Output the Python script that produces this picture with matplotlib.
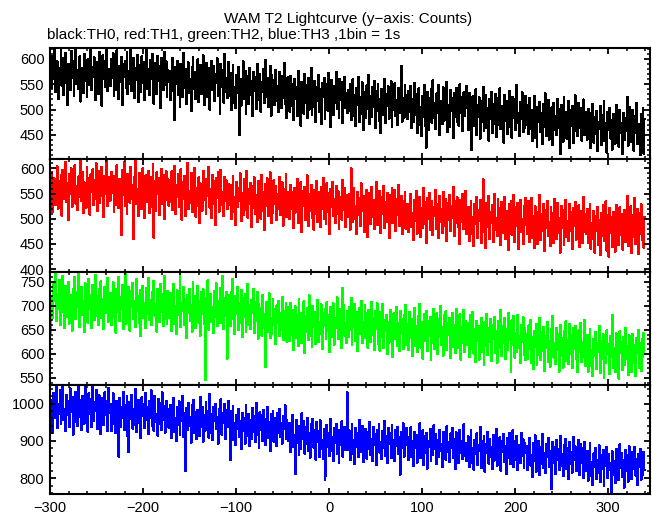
import numpy as np
import matplotlib
matplotlib.use("Agg")
import matplotlib.pyplot as plt
from matplotlib.ticker import MultipleLocator, FixedLocator

plt.rcParams['font.family'] = ['Liberation Sans', 'DejaVu Sans']

title = "WAM T2 Lightcurve (y\u2212axis: Counts)"
subtitle = "black:TH0, red:TH1, green:TH2, blue:TH3 ,1bin = 1s"
t_start = -300  # seconds, 1 s bins
x_ticks = [-300, -200, -100, 0, 100, 200, 300]

th0 = [
580, 543, 606, 560, 619, 535, 572, 595, 521, 583, 556, 628, 547, 601, 529, 576, 612, 553, 510, 590, 571, 538, 616, 562, 587, 527, 597, 623, 550, 578, 541, 605, 516, 582, 569, 533, 610, 591, 557, 524, 599, 574, 548, 625, 539, 585, 564, 603, 519, 594, 577, 531, 614, 554, 588, 508, 607, 561, 596, 545, 618, 536, 581, 566,
546, 599, 562, 611, 527, 580, 538, 617, 573, 521, 586, 555, 604, 509, 591, 564, 596, 542, 613, 530, 577, 550, 623, 536, 570, 601, 523, 583, 558, 608, 515, 589, 567, 534, 605, 552, 594, 519, 574, 619, 541, 581, 528, 598, 560, 610, 545, 512, 592, 576, 531, 606, 556, 587, 503, 602, 569, 539, 614, 549, 595, 524, 579, 554,
577, 519, 564, 602, 537, 480, 585, 551, 596, 528, 570, 506, 591, 557, 524, 612, 543, 580, 512, 566, 593, 533, 561, 497, 584, 603, 540, 574, 521, 549, 599, 515, 568, 588, 530, 558, 607, 509, 575, 546, 592, 525, 582, 500, 563, 596, 538, 586, 517, 571, 553, 601, 527, 567, 492, 590, 544, 579, 514, 610, 535, 562, 522, 594,
526, 573, 499, 558, 589, 514, 545, 503, 568, 532, 584, 450, 561, 508, 552, 595, 521, 577, 492, 543, 566, 511, 582, 529, 557, 487, 575, 537, 564, 501, 590, 519, 549, 571, 496, 554, 534, 580, 513, 598, 524, 562, 505, 541, 586, 488, 569, 530, 559, 509, 578, 517, 547, 495, 574, 553, 503, 567, 522, 592, 512, 546, 483, 564,
533, 496, 566, 508, 551, 479, 560, 520, 544, 487, 577, 503, 536, 468, 555, 527, 492, 570, 513, 548, 484, 562, 500, 539, 583, 489, 531, 506, 557, 476, 545, 517, 568, 495, 541, 471, 553, 524, 563, 481, 535, 550, 498, 572, 510, 465, 558, 529, 490, 546, 514, 575, 501, 538, 483, 561, 519, 554, 474, 543, 565, 504, 532, 493,
539, 497, 551, 479, 518, 560, 488, 529, 467, 543, 509, 565, 475, 524, 492, 554, 460, 534, 513, 483, 548, 502, 569, 471, 527, 486, 545, 505, 557, 464, 536, 498, 550, 478, 521, 454, 541, 515, 490, 561, 473, 530, 507, 546, 482, 525, 556, 465, 533, 500, 552, 487, 519, 469, 542, 494, 532, 587, 476, 523, 484, 549, 503, 528,
481, 537, 496, 546, 464, 520, 475, 553, 489, 531, 453, 511, 542, 470, 505, 447, 527, 486, 549, 467, 425, 535, 459, 523, 500, 540, 474, 558, 483, 513, 462, 532, 493, 548, 450, 518, 507, 471, 544, 478, 528, 491, 555, 456, 510, 465, 538, 498, 522, 444, 533, 485, 543, 476, 514, 468, 550, 494, 525, 458, 534, 488, 506, 547,
504, 460, 533, 479, 516, 420, 526, 467, 498, 540, 450, 509, 485, 524, 443, 518, 475, 545, 457, 492, 529, 464, 503, 439, 521, 482, 535, 454, 512, 472, 531, 446, 496, 523, 469, 542, 461, 507, 488, 435, 528, 478, 517, 451, 500, 537, 466, 510, 445, 525, 484, 520, 459, 548, 473, 494, 448, 515, 481, 534, 455, 505, 463, 527,
469, 510, 451, 523, 462, 499, 438, 490, 527, 445, 483, 426, 506, 475, 516, 456, 493, 432, 511, 466, 532, 448, 486, 519, 441, 497, 472, 505, 430, 514, 460, 488, 449, 521, 464, 502, 412, 509, 476, 437, 525, 453, 495, 443, 484, 517, 425, 500, 468, 508, 434, 491, 528, 458, 481, 447, 513, 463, 504, 439, 487, 520, 450, 496,
481, 441, 502, 456, 493, 424, 470, 512, 435, 485, 451, 498, 418, 476, 462, 507, 430, 489, 446, 517, 438, 473, 415, 496, 459, 504, 443, 479, 421, 491, 466, 433, 510, 449, 486, 427, 500, 454, 474, 412, 494, 440, 483, 458, 525, 429, 478, 505, 436, 463, 499, 419, 488, 453, 513, 432, 471, 445, 410, 492, 457, 503, 413, 482,
]

th1 = [
568, 592, 513, 546, 580, 528, 563, 604, 520, 575, 551, 586, 506, 597, 540, 561, 613, 533, 571, 498, 589, 549, 600, 524, 578, 556, 606, 530, 566, 517, 584, 543, 615, 536, 593, 511, 572, 559, 522, 602, 547, 581, 508, 588, 553, 598, 527, 576, 539, 610, 515, 569, 594, 532, 564, 603, 544, 503, 585, 550, 616, 525, 573, 582,
536, 593, 552, 585, 514, 570, 528, 606, 559, 521, 579, 543, 468, 597, 547, 612, 525, 575, 510, 589, 563, 532, 603, 539, 568, 460, 582, 614, 529, 560, 505, 591, 545, 577, 519, 600, 553, 502, 586, 572, 534, 595, 511, 565, 583, 523, 608, 462, 574, 516, 592, 549, 580, 508, 569, 599, 530, 587, 499, 562, 594, 537, 578, 526,
577, 534, 594, 517, 559, 605, 510, 568, 544, 588, 523, 551, 598, 498, 572, 539, 585, 506, 565, 610, 520, 556, 531, 591, 513, 575, 548, 601, 504, 562, 526, 582, 492, 570, 554, 516, 595, 537, 579, 509, 566, 545, 603, 522, 560, 502, 586, 530, 574, 488, 581, 541, 592, 514, 564, 597, 527, 553, 505, 583, 535, 576, 519, 569,
527, 568, 499, 555, 584, 513, 544, 488, 573, 524, 562, 535, 590, 495, 551, 507, 578, 518, 540, 595, 502, 559, 530, 571, 483, 566, 521, 582, 510, 547, 493, 575, 532, 563, 500, 587, 516, 553, 478, 569, 526, 580, 505, 542, 592, 491, 557, 512, 576, 529, 565, 497, 549, 519, 583, 508, 545, 572, 486, 560, 523, 588, 503, 554,
546, 499, 568, 519, 553, 481, 561, 512, 533, 579, 491, 540, 506, 572, 473, 556, 525, 564, 497, 542, 586, 486, 549, 516, 567, 502, 536, 478, 558, 509, 575, 494, 530, 554, 484, 563, 520, 581, 500, 545, 489, 570, 514, 551, 470, 559, 523, 573, 505, 539, 492, 566, 510, 555, 480, 544, 531, 498, 577, 518, 562, 483, 548, 503,
512, 549, 478, 600, 532, 493, 561, 500, 525, 469, 554, 507, 542, 485, 570, 516, 546, 473, 535, 497, 558, 464, 527, 551, 490, 564, 504, 538, 479, 520, 573, 487, 530, 499, 555, 472, 544, 510, 566, 482, 533, 494, 552, 515, 461, 547, 502, 562, 491, 526, 557, 476, 539, 508, 568, 485, 523, 545, 470, 536, 498, 554, 480, 529,
530, 473, 518, 549, 484, 511, 458, 538, 495, 555, 470, 527, 503, 544, 464, 522, 481, 561, 489, 533, 452, 541, 499, 551, 477, 515, 536, 467, 524, 506, 558, 479, 529, 461, 546, 493, 519, 472, 553, 486, 512, 540, 456, 532, 497, 547, 475, 526, 502, 563, 465, 535, 491, 543, 483, 517, 450, 538, 494, 550, 480, 521, 556, 469,
481, 524, 456, 511, 535, 469, 503, 445, 529, 490, 543, 462, 517, 496, 538, 451, 520, 578, 473, 507, 442, 532, 483, 546, 459, 514, 492, 527, 454, 549, 477, 501, 465, 540, 486, 522, 447, 533, 471, 509, 544, 460, 516, 494, 438, 530, 479, 536, 468, 505, 547, 453, 523, 485, 531, 440, 512, 538, 474, 500, 450, 526, 488, 542,
520, 470, 535, 453, 498, 542, 462, 506, 442, 525, 485, 514, 449, 503, 548, 457, 510, 475, 529, 436, 517, 481, 536, 466, 494, 445, 523, 478, 511, 452, 540, 489, 460, 532, 471, 501, 433, 526, 482, 518, 447, 505, 538, 463, 496, 455, 530, 476, 513, 440, 521, 486, 534, 458, 507, 468, 527, 444, 499, 516, 451, 543, 474, 509,
470, 519, 452, 501, 530, 441, 492, 459, 516, 433, 505, 476, 524, 447, 497, 428, 512, 465, 527, 455, 488, 535, 437, 508, 425, 521, 472, 503, 444, 514, 480, 435, 528, 462, 495, 448, 523, 467, 510, 439, 491, 517, 454, 498, 545, 445, 502, 474, 525, 432, 507, 464, 541, 450, 489, 520, 430, 511, 469, 529, 457, 494, 443, 504,
]

th2 = [
643, 718, 675, 745, 709, 771, 668, 725, 694, 754, 659, 733, 686, 763, 700, 653, 741, 714, 677, 749, 663, 722, 707, 648, 736, 690, 760, 672, 728, 697, 768, 656, 717, 739, 681, 711, 645, 747, 688, 731, 665, 756, 693, 723, 654, 743, 704, 670, 765, 678, 720, 660, 734, 695, 751, 674, 715, 651, 740, 684, 727, 758, 667, 709,
727, 659, 710, 749, 677, 704, 644, 735, 686, 761, 668, 718, 694, 744, 652, 725, 770, 663, 713, 681, 739, 648, 730, 698, 747, 672, 709, 655, 756, 689, 721, 664, 733, 636, 716, 741, 675, 705, 653, 738, 683, 758, 670, 712, 660, 729, 692, 752, 679, 703, 646, 736, 719, 667, 745, 687, 724, 657, 763, 673, 708, 662, 731, 696,
674, 727, 648, 712, 745, 663, 699, 641, 732, 680, 718, 770, 655, 706, 689, 739, 659, 714, 633, 723, 684, 736, 668, 702, 646, 749, 677, 720, 653, 695, 742, 665, 709, 638, 728, 682, 734, 661, 545, 716, 672, 753, 650, 705, 725, 666, 697, 644, 731, 676, 747, 657, 711, 687, 738, 664, 700, 762, 651, 717, 679, 728, 590, 722,
710, 657, 728, 756, 672, 697, 641, 721, 683, 740, 650, 705, 664, 733, 634, 716, 677, 725, 646, 694, 746, 659, 702, 652, 713, 685, 736, 643, 707, 668, 729, 631, 703, 664, 696, 638, 722, 654, 683, 572, 708, 645, 687, 726, 632, 675, 642, 715, 659, 693, 620, 701, 665, 710, 637, 684, 650, 718, 629, 690, 669, 705, 625, 698,
674, 627, 706, 640, 691, 608, 668, 699, 633, 681, 616, 715, 651, 686, 622, 663, 709, 602, 678, 646, 696, 629, 722, 637, 671, 614, 700, 655, 688, 620, 676, 712, 625, 666, 641, 703, 610, 684, 658, 693, 631, 707, 648, 680, 604, 697, 635, 669, 705, 619, 675, 653, 718, 630, 685, 643, 694, 612, 738, 701, 638, 665, 623, 689,
635, 698, 650, 717, 618, 679, 656, 704, 627, 687, 605, 672, 695, 641, 710, 622, 666, 632, 701, 647, 684, 613, 692, 662, 624, 708, 639, 675, 607, 689, 652, 705, 620, 660, 606, 687, 634, 704, 611, 671, 648, 681, 600, 667, 623, 692, 639, 676, 593, 684, 630, 659, 697, 616, 664, 605, 689, 644, 673, 609, 680, 635, 702, 618,
662, 608, 687, 632, 673, 595, 650, 696, 617, 658, 603, 679, 641, 704, 613, 666, 590, 653, 682, 627, 690, 605, 669, 637, 677, 586, 660, 622, 693, 610, 647, 684, 599, 672, 634, 699, 618, 656, 596, 680, 625, 689, 607, 665, 639, 675, 592, 652, 686, 615, 661, 601, 694, 630, 670, 611, 682, 588, 655, 623, 691, 604, 668, 642,
619, 664, 593, 680, 610, 641, 688, 600, 652, 583, 669, 627, 658, 588, 646, 675, 604, 635, 576, 666, 616, 683, 597, 654, 624, 672, 585, 660, 631, 677, 602, 648, 581, 668, 613, 639, 691, 595, 657, 622, 674, 589, 651, 607, 686, 628, 663, 561, 670, 618, 679, 592, 644, 603, 681, 611, 637, 580, 661, 625, 676, 598, 653, 587,
641, 590, 659, 609, 670, 581, 634, 568, 648, 615, 663, 576, 629, 598, 675, 587, 645, 605, 656, 565, 637, 612, 666, 583, 626, 573, 651, 601, 679, 592, 622, 578, 654, 607, 642, 563, 660, 596, 632, 571, 647, 616, 668, 585, 628, 579, 663, 599, 639, 570, 653, 610, 658, 589, 635, 561, 649, 604, 664, 582, 624, 594, 671, 575,
586, 639, 563, 617, 652, 575, 608, 554, 631, 596, 645, 568, 623, 604, 658, 559, 627, 590, 641, 550, 634, 581, 649, 599, 620, 557, 637, 593, 681, 570, 613, 562, 643, 585, 630, 548, 647, 601, 624, 566, 635, 577, 654, 589, 616, 555, 639, 597, 628, 561, 642, 580, 619, 553, 633, 602, 650, 571, 622, 564, 631, 594, 644, 600,
]

th3 = [
947, 1010, 922, 1028, 990, 960, 1047, 934, 999, 973, 1035, 944, 1014, 1052, 955, 986, 927, 1023, 968, 1006, 936, 1041, 977, 1018, 916, 1001, 951, 1032, 993, 940, 1054, 964, 1009, 929, 1020, 984, 946, 1045, 958, 996, 924, 1027, 972, 1013, 938, 1049, 953, 1003, 979, 1037, 932, 991, 1022, 961, 918, 1016, 998, 943, 1030, 970, 1007, 926, 1042, 975,
1000, 926, 982, 1027, 945, 973, 920, 1008, 954, 858, 1015, 937, 991, 962, 1032, 929, 996, 951, 1019, 912, 870, 1004, 958, 1023, 933, 985, 943, 1039, 923, 976, 1010, 948, 988, 907, 1017, 966, 999, 935, 1028, 955, 992, 918, 1006, 961, 1035, 940, 981, 927, 1021, 950, 972, 914, 1013, 944, 1001, 930, 1030, 957, 994, 922, 1007, 964, 986, 937,
935, 997, 907, 970, 1015, 924, 962, 900, 991, 943, 1006, 916, 979, 952, 1021, 911, 974, 820, 988, 929, 1002, 940, 965, 895, 995, 948, 1010, 920, 977, 905, 984, 959, 914, 1018, 937, 992, 898, 968, 927, 1003, 946, 981, 909, 1025, 922, 971, 903, 990, 953, 999, 931, 964, 893, 986, 941, 1012, 917, 975, 949, 998, 906, 982, 938, 1007,
963, 848, 979, 921, 994, 902, 947, 888, 970, 932, 985, 910, 953, 877, 976, 927, 960, 893, 997, 914, 942, 973, 885, 956, 905, 988, 924, 966, 896, 1002, 917, 945, 882, 977, 929, 968, 900, 983, 936, 890, 958, 991, 908, 950, 873, 972, 919, 980, 898, 961, 941, 886, 975, 922, 986, 911, 949, 893, 967, 931, 996, 904, 955, 912,
900, 948, 869, 932, 969, 883, 917, 812, 956, 894, 941, 861, 925, 878, 974, 904, 952, 866, 936, 891, 962, 874, 921, 855, 945, 909, 959, 882, 928, 850, 951, 898, 926, 856, 955, 877, 902, 851, 931, 795, 805, 943, 884, 922, 860, 959, 873, 911, 847, 935, 894, 946, 865, 918, 842, 930, 890, 952, 858, 914, 938, 876, 906, 1030,
875, 928, 848, 909, 946, 865, 902, 837, 935, 884, 921, 856, 955, 871, 898, 940, 843, 914, 887, 932, 852, 923, 879, 950, 861, 905, 847, 937, 890, 918, 835, 930, 876, 944, 868, 897, 851, 926, 882, 953, 859, 912, 841, 934, 892, 920, 854, 942, 873, 903, 845, 929, 885, 938, 864, 911, 810, 924, 881, 947, 857, 916, 889, 935,
910, 849, 895, 936, 858, 901, 833, 924, 880, 916, 841, 905, 872, 947, 853, 890, 928, 836, 912, 867, 921, 826, 899, 884, 933, 846, 907, 861, 942, 877, 918, 839, 903, 856, 930, 874, 892, 830, 925, 865, 914, 849, 939, 871, 897, 843, 920, 882, 934, 855, 906, 824, 923, 876, 911, 840, 929, 867, 900, 851, 944, 860, 894, 845,
859, 912, 830, 895, 929, 842, 880, 823, 903, 864, 920, 836, 888, 872, 937, 827, 899, 852, 914, 817, 891, 867, 924, 839, 905, 856, 883, 825, 917, 847, 877, 932, 833, 896, 861, 910, 820, 901, 870, 919, 844, 886, 812, 907, 854, 922, 837, 892, 866, 928, 830, 900, 849, 913, 822, 889, 878, 841, 921, 859, 904, 828, 894, 868,
886, 822, 870, 907, 834, 861, 803, 894, 845, 915, 818, 878, 852, 900, 809, 883, 839, 919, 827, 867, 813, 891, 856, 908, 830, 873, 800, 770, 897, 842, 884, 811, 902, 849, 877, 821, 913, 833, 864, 806, 889, 846, 905, 824, 880, 798, 896, 838, 869, 815, 911, 850, 885, 819, 875, 855, 903, 808, 892, 840, 882, 801, 898, 847,
820, 873, 793, 856, 894, 806, 844, 782, 867, 830, 881, 797, 850, 814, 888, 789, 861, 825, 876, 778, 854, 833, 884, 801, 865, 822, 842, 762, 872, 810, 846, 786, 879, 817, 859, 794, 891, 828, 868, 803, 849, 775, 875, 819, 863, 791, 886, 812, 840, 798, 870, 826, 883, 807, 852, 781, 866, 830, 878, 796, 855, 809, 871, 823,
]

series = [th0, th1, th2, th3]
colors = ["#000000", "#ff0000", "#00ff00", "#0000ff"]
y_ticks = [[450, 500, 550, 600], [400, 450, 500, 550, 600],
           [550, 600, 650, 700, 750], [800, 900, 1000]]
y_minor = [10, 10, 10, 20]
y_lims = [(402, 621), (395, 618), (536, 771), (757, 1051)]

W, H = 652, 515
fig = plt.figure(figsize=(W / 100, H / 100), dpi=100)
fig.patch.set_facecolor("white")

panel_px = [(48.3, 159.3), (159.3, 271.7), (271.7, 384.5), (384.5, 494.3)]
left_px, right_px = 50, 650

for i, (vals, col) in enumerate(zip(series, colors)):
    top, bot = panel_px[i]
    ax = fig.add_axes([left_px / W, 1 - bot / H, (right_px - left_px) / W, (bot - top) / H])
    v = np.asarray(vals, dtype=float)
    edges = t_start + np.arange(len(v) + 1)
    ax.stairs(v, edges, color=col, lw=0.72, baseline=None, antialiased=False)
    ax.set_xlim(-300.3, 345)
    ax.set_ylim(*y_lims[i])
    ax.xaxis.set_major_locator(FixedLocator(x_ticks))
    ax.xaxis.set_minor_locator(MultipleLocator(20))
    ax.yaxis.set_major_locator(FixedLocator(y_ticks[i]))
    ax.yaxis.set_minor_locator(MultipleLocator(y_minor[i]))
    ax.tick_params(which="both", direction="in", top=True, right=True,
                   colors="black", labelsize=10.5, width=1.3)
    ax.tick_params(which="major", length=4.5, pad=4)
    ax.tick_params(which="minor", length=2.2, width=1.1)
    ax.tick_params(axis="x", pad=5)
    for s in ax.spines.values():
        s.set_linewidth(1.5)
        s.set_color("black")
    if i < 3:
        ax.tick_params(labelbottom=False)

fig.text(348 / W, 1 - 23 / H, title, ha="center", va="baseline", fontsize=11)
fig.text(47 / W, 1 - 38.5 / H, subtitle, ha="left", va="baseline", fontsize=11)

fig.savefig("out.png", dpi=100, facecolor="white")
